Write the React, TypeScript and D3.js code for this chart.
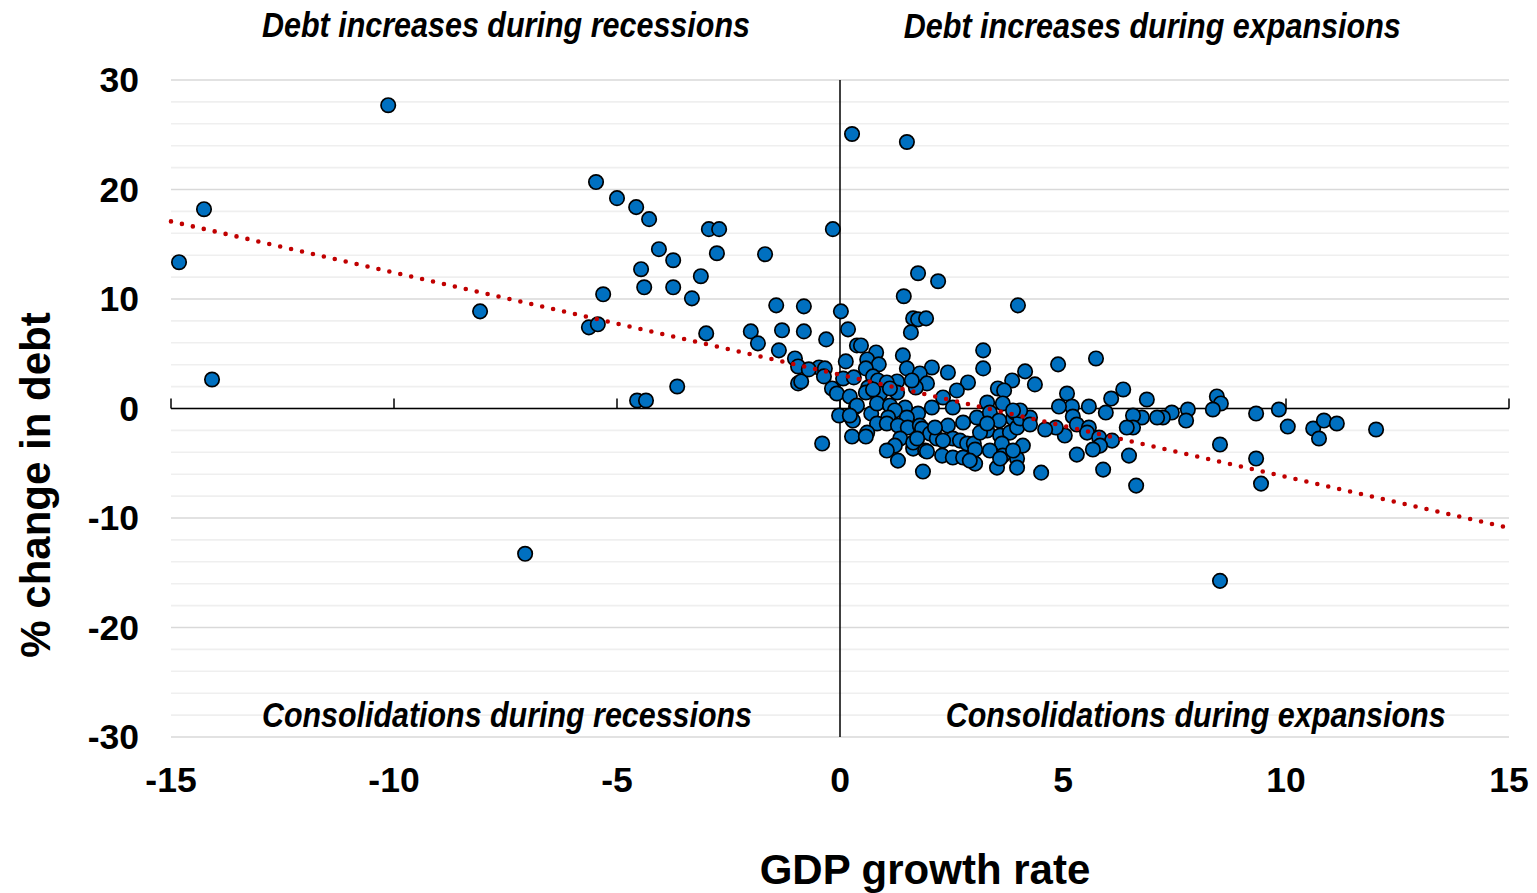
import React from "react";
import * as d3 from "d3";

// GDP growth rate (%) for each country-year observation
const growthRate: number[] = [
  -14.82, -14.26, -14.08, -10.13, -8.07, -7.06,
  -5.47, -5.0, -4.57, -4.28, -2.94, -2.71, -0.16,
  -4.06, -3.74, -2.76, -1.68, -4.46, -3.12, -4.39, -3.74, -5.31, -3.32, -1.43, -0.81, 0.02,
  -5.63, -5.43, -3.0, -2.0, -1.3, -0.81, 0.18, -1.84, -0.31, -1.37, 0.38, 0.13, -1.01, -0.94,
  -0.47, -0.34, -0.36, 0.07, 0.31, -0.94, -0.87, -0.18, -0.07, 0.22, 0.36, -3.65, -4.55, -4.35,
  -0.02, 0.25, 0.29, 0.27, -0.4, 0.27, 1.5,
  1.75, 2.2, 1.43, 3.99, 1.64, 1.75, 1.93, 1.59, 0.47, 0.81, 3.21, 1.41, 0.61, 0.87, 0.58, 3.21,
  -0.7, 1.5, 2.06, 2.42, 1.79, 0.74, 0.85, 3.86, 2.87, 1.28, 1.05, 1.95, 1.7, 0.63, 3.54, 3.68,
  0.9, 1.28, 1.12, 0.58, 2.62, 2.31, 2.06, 2.53, 0.38, 0.7, 0.83, 1.12, 1.46, 0.22, 3.3, 3.07,
  3.65, 3.36, 3.88, 1.23, 1.75, 1.5, 1.08, 0.83, 1.05, 1.3, 1.52, 1.79, 2.76, 2.42, 0.61, 0.58,
  1.84, 2.02, 2.17, 2.53, 2.69, 3.3, 3.59, 3.81, 3.97, 2.85, 3.0, 3.63, 1.35, 1.23, 1.05, 1.64,
  1.91, 2.29, 2.53, 2.76, 3.03, 3.52, 3.97, 1.3, 1.86, 1.64, 1.61, 3.57, 3.92, 4.04, 4.26, 2.13,
  3.14, 3.3, 2.31, 1.73, 3.03, 4.1, 3.65, 3.36, 1.95, 2.91, 3.59, 3.97, 4.51, 0.74,
  5.74, 4.89, 4.15, 4.37, 5.09, 6.35, 6.88, 8.45, 8.54, 8.36, 7.8, 7.76, 7.44, 7.24, 7.11, 6.77,
  6.57, 6.57, 6.43, 6.08, 5.96, 5.58, 5.2, 4.91, 5.22, 5.31, 5.58, 5.54, 5.81, 6.1, 5.83, 5.67,
  5.04, 4.84, 4.6, 4.26, 4.04, 3.88, 3.88, 5.31, 5.9, 6.48, 6.64, 8.52, 9.33, 9.84, 10.04, 9.33,
  9.44, 10.61, 10.85, 11.14, 10.74, 12.02, 8.52,
];

// % change in debt, paired with growthRate by index
const debtChange: number[] = [
  13.36, 18.2, 2.65, 27.7, 8.87, -13.27,
  20.68, 19.21, 18.39, 17.29, 16.38, 16.38, 16.38,
  14.55, 13.54, 14.18, 14.09, 12.72, 12.08, 11.07, 11.07, 10.43, 10.06, 9.42, 9.33, 8.87,
  7.41, 7.69, 6.86, 7.04, 7.14, 7.04, 7.23, 5.95, 6.31, 5.31, 5.76, 4.3, 4.57, 3.84,
  3.75, 3.66, 2.93, 2.74, 2.84, 2.29, 2.47, 1.83, 1.37, 1.1, 0.18, 2.01, 0.73, 0.73,
  -0.64, -0.82, -1.1, -2.56, -3.2, 25.07, 24.34,
  12.35, 11.62, 10.25, 9.42, 8.23, 8.14, 8.23, 6.95, 5.76, 5.12, 5.31, 4.85, 4.48, 4.03, 3.66, 3.66,
  3.57, 3.66, 3.75, 3.29, 3.2, 2.93, 2.56, 2.56, 2.38, 2.47, 2.38, 2.29, 1.92, 1.92, 1.83, 1.65,
  1.37, 1.46, 1.83, 1.46, 1.65, 1.01, 0.09, 0.09, 0.27, -0.46, 0.46, 0.27, 0.09, -0.64, 0.55, -0.82,
  0.46, -0.37, -0.91, -0.18, -0.46, -0.82, -0.82, -1.37, -1.37, -1.56, -1.74, -1.56, -1.28, -1.56, -2.2, -2.56,
  -1.83, -2.29, -2.74, -2.74, -2.93, -2.01, -2.47, -2.2, -1.74, -3.2, -3.2, -3.2, -2.74, -3.39, -3.84, -3.66,
  -3.84, -4.3, -4.48, -4.48, -5.03, -5.4, -4.57, -4.76, -5.76, -3.11, 2.56, -1.1, -0.37, -0.91, -0.82, -1.74,
  -2.2, -1.37, -2.93, -2.74, -3.75, -3.39, -4.3, -3.84, -3.93, -4.76, -4.57, -5.4, -5.86, 1.74,
  4.57, 4.03, 3.39, 2.2, 1.37, 1.74, 0.82, 1.1, 0.46, -0.09, -0.09, -1.1, -0.37, -0.82, -0.82, -0.82,
  -0.64, -1.74, -1.74, 0.91, -0.37, 0.18, 0.18, 0.18, -0.73, -1.46, -1.74, -2.2, -2.65, -2.93, -3.39, -3.75,
  -2.47, -1.74, -1.92, -1.46, -0.18, -0.18, -3.84, -4.21, -5.58, -4.3, -7.04, -3.29, -0.46, -0.09, -1.65, -4.57,
  -6.86, -1.83, -1.1, -1.37, -2.74, -1.92, -15.74,
];

// Linear trend: debt change = intercept + slope * growth
const trendIntercept = 3.09;
const trendSlope = -0.933;

const xTicks: number[] = [-15, -10, -5, 0, 5, 10, 15];
const yTicks: number[] = [30, 20, 10, 0, -10, -20, -30];
const minorGrid: number[] = d3.range(-30, 31, 2);

// Quadrant captions: growth value where each caption starts, its baseline and set width
const quadrantLabels = [
  { text: "Debt increases during recessions", gx: -12.96, by: 37, len: 488 },
  { text: "Debt increases during expansions", gx: 1.43, by: 38, len: 497 },
  { text: "Consolidations during recessions", gx: -12.96, by: 727, len: 490 },
  { text: "Consolidations during expansions", gx: 2.37, by: 727, len: 500 },
];

const W = 1537;
const H = 893;

export default function App() {
  const x = d3.scaleLinear().domain([-15, 15]).range([171, 1509]);
  const y = d3.scaleLinear().domain([-30, 30]).range([737, 80]);

  const points = growthRate.map((g, i) => ({ g, d: debtChange[i] }));

  const trend = d3
    .line<number>()
    .x((g) => x(g))
    .y((g) => y(trendIntercept + trendSlope * g));

  const bold = "'Liberation Sans', Arial, sans-serif";

  return (
    <svg
      width={W}
      height={H}
      viewBox={`0 0 ${W} ${H}`}
      style={{ position: "absolute", left: 0, top: 0, background: "#fff" }}
    >
      {/* gridlines */}
      <g>
        {minorGrid.map((v) => (
          <line
            key={v}
            x1={x(-15)}
            x2={x(15)}
            y1={y(v)}
            y2={y(v)}
            stroke={v % 10 === 0 ? "#d9d9d9" : "#efefef"}
            strokeWidth={1.6}
          />
        ))}
      </g>

      {/* axes */}
      <line x1={x(0)} x2={x(0)} y1={y(30)} y2={y(-30)} stroke="#000" strokeWidth={1.5} />
      <line x1={x(-15)} x2={x(15)} y1={y(0)} y2={y(0)} stroke="#000" strokeWidth={1.5} />
      {xTicks.map((t) => (
        <line key={t} x1={x(t)} x2={x(t)} y1={y(0)} y2={y(0) - 10} stroke="#000" strokeWidth={1.5} />
      ))}

      {/* tick labels */}
      {yTicks.map((t) => (
        <text
          key={t}
          x={139}
          y={y(t)}
          dy="0.35em"
          textAnchor="end"
          fontFamily={bold}
          fontWeight="bold"
          fontSize={35.5}
        >
          {t}
        </text>
      ))}
      {xTicks.map((t) => (
        <text
          key={t}
          x={x(t)}
          y={792}
          textAnchor="middle"
          fontFamily={bold}
          fontWeight="bold"
          fontSize={35.5}
        >
          {t}
        </text>
      ))}

      {/* axis titles */}
      <text
        x={925}
        y={884}
        textAnchor="middle"
        fontFamily={bold}
        fontWeight="bold"
        fontSize={42}
      >
        GDP growth rate
      </text>
      <text
        transform="translate(50,485) rotate(-90)"
        textAnchor="middle"
        fontFamily={bold}
        fontWeight="bold"
        fontSize={42}
      >
        % change in debt
      </text>

      {/* quadrant labels, set in a condensed bold italic */}
      {quadrantLabels.map((q) => (
        <text
          key={q.text}
          x={x(q.gx)}
          y={q.by}
          fontFamily={bold}
          fontWeight="bold"
          fontStyle="italic"
          fontSize={35}
          textLength={q.len}
          lengthAdjust="spacingAndGlyphs"
        >
          {q.text}
        </text>
      ))}

      {/* observations */}
      <g>
        {points.map((p, i) => (
          <circle
            key={i}
            cx={x(p.g)}
            cy={y(p.d)}
            r={7.2}
            fill="#0070c0"
            stroke="#000"
            strokeWidth={1.7}
          />
        ))}
      </g>

      {/* trend line */}
      <path
        d={trend([-15, 15]) ?? ""}
        fill="none"
        stroke="#c00000"
        strokeWidth={4.6}
        strokeLinecap="round"
        strokeDasharray="0 11.2"
      />
    </svg>
  );
}
